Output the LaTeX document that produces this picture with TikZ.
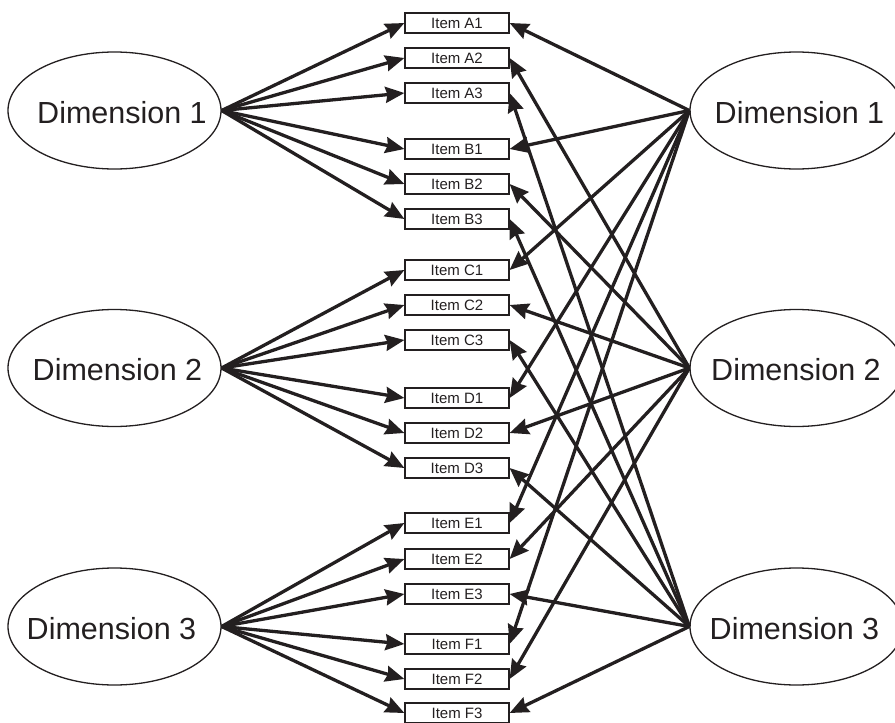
\documentclass[tikz,border=0pt]{standalone}
\usepackage{fontspec}
\setmainfont{Liberation Sans}
\usetikzlibrary{arrows.meta,shapes.geometric}
\definecolor{ink}{RGB}{35,31,32}

\begin{document}
\begin{tikzpicture}[x=1pt,y=-1pt,
  dimension/.style={draw=ink,line width=1.3pt,ellipse,minimum width=213pt,minimum height=117pt,inner sep=0pt},
  dimtext/.style={text=ink,font=\fontsize{30.5}{36}\selectfont,inner sep=0pt},
  item/.style={draw=ink,line width=1.2pt,minimum width=104pt,minimum height=20pt,inner sep=0pt,text=ink,font=\fontsize{15}{17}\selectfont},
  load/.style={draw=ink,line width=3.3pt,-{Stealth[length=19pt,width=16pt,inset=2pt]}}]

\clip (0,0) rectangle (895,723);

% dimensions
\node [dimension] (L1) at (114.5,110.5) {};
\node [dimension] (L2) at (114.5,368) {};
\node [dimension] (L3) at (114.5,626.5) {};
\node [dimension] (R1) at (796.5,110.5) {};
\node [dimension] (R2) at (796.5,368) {};
\node [dimension] (R3) at (796.5,626.5) {};

\node [dimtext] (L1t) at (122,113) {Dimension 1};
\node [dimtext] (L2t) at (117.5,370) {Dimension 2};
\node [dimtext] (L3t) at (111.5,629) {Dimension 3};
\node [dimtext] (R1t) at (799.5,113) {Dimension 1};
\node [dimtext] (R2t) at (796,370) {Dimension 2};
\node [dimtext] (R3t) at (794.5,629) {Dimension 3};

% items
\node [item] (A1) at (457,23) {Item A1};
\node [item] (A2) at (457,58) {Item A2};
\node [item] (A3) at (457,93) {Item A3};
\node [item] (B1) at (457,149) {Item B1};
\node [item] (B2) at (457,184) {Item B2};
\node [item] (B3) at (457,219) {Item B3};
\node [item] (C1) at (457,270) {Item C1};
\node [item] (C2) at (457,305) {Item C2};
\node [item] (C3) at (457,340) {Item C3};
\node [item] (D1) at (457,398) {Item D1};
\node [item] (D2) at (457,433) {Item D2};
\node [item] (D3) at (457,468) {Item D3};
\node [item] (E1) at (457,523) {Item E1};
\node [item] (E2) at (457,559) {Item E2};
\node [item] (E3) at (457,594) {Item E3};
\node [item] (F1) at (457,644) {Item F1};
\node [item] (F2) at (457,679) {Item F2};
\node [item] (F3) at (457,713) {Item F3};

% left loadings
\draw [load] (L1.east) -- (A1.west);
\draw [load] (L1.east) -- (A2.west);
\draw [load] (L1.east) -- (A3.west);
\draw [load] (L1.east) -- (B1.west);
\draw [load] (L1.east) -- (B2.west);
\draw [load] (L1.east) -- (B3.west);
\draw [load] (L2.east) -- (C1.west);
\draw [load] (L2.east) -- (C2.west);
\draw [load] (L2.east) -- (C3.west);
\draw [load] (L2.east) -- (D1.west);
\draw [load] (L2.east) -- (D2.west);
\draw [load] (L2.east) -- (D3.west);
\draw [load] (L3.east) -- (E1.west);
\draw [load] (L3.east) -- (E2.west);
\draw [load] (L3.east) -- (E3.west);
\draw [load] (L3.east) -- (F1.west);
\draw [load] (L3.east) -- (F2.west);
\draw [load] (L3.east) -- (F3.west);

% right loadings
\draw [load] (R1.west) -- (A1.east);
\draw [load] (R2.west) -- (A2.east);
\draw [load] (R3.west) -- (A3.east);
\draw [load] (R1.west) -- (B1.east);
\draw [load] (R2.west) -- (B2.east);
\draw [load] (R3.west) -- (B3.east);
\draw [load] (R1.west) -- (C1.east);
\draw [load] (R2.west) -- (C2.east);
\draw [load] (R3.west) -- (C3.east);
\draw [load] (R1.west) -- (D1.east);
\draw [load] (R2.west) -- (D2.east);
\draw [load] (R3.west) -- (D3.east);
\draw [load] (R1.west) -- (E1.east);
\draw [load] (R2.west) -- (E2.east);
\draw [load] (R3.west) -- (E3.east);
\draw [load] (R1.west) -- (F1.east);
\draw [load] (R2.west) -- (F2.east);
\draw [load] (R3.west) -- (F3.east);

\end{tikzpicture}
\end{document}
